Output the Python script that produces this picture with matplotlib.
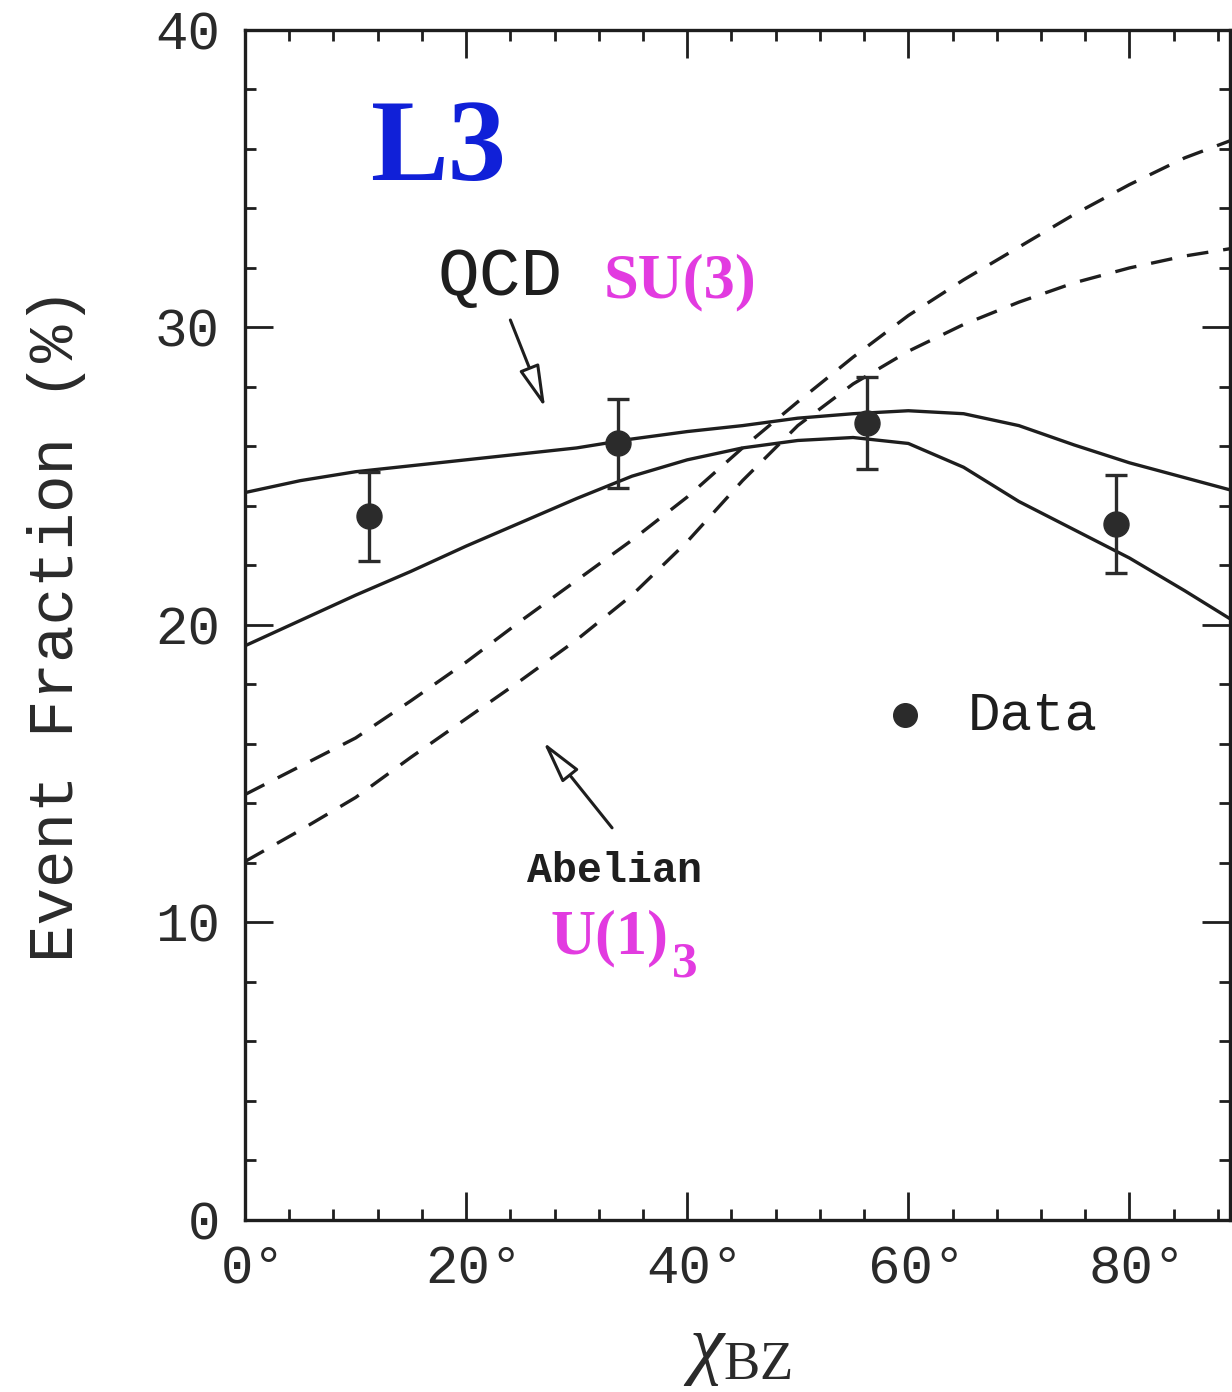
import matplotlib
matplotlib.use('Agg')
import matplotlib.pyplot as plt
import matplotlib.transforms as mtrans
from matplotlib.ticker import MultipleLocator
from matplotlib.patches import FancyArrowPatch

# data points
chi_data = [11.25, 33.75, 56.25, 78.75]
frac_data = [23.65, 26.1, 26.8, 23.4]
frac_err = [1.5, 1.5, 1.55, 1.65]

# model curves
chi_curve = [0, 5, 10, 15, 20, 25, 30, 35, 40, 45, 50, 55, 60, 65, 70, 75, 80, 85, 90]
qcd_upper = [24.45, 24.85, 25.15, 25.35, 25.55, 25.75, 25.95, 26.25, 26.5, 26.7,
             26.95, 27.1, 27.2, 27.1, 26.7, 26.05, 25.45, 24.95, 24.45]
qcd_lower = [19.3, 20.15, 21.0, 21.8, 22.65, 23.45, 24.25, 25.0, 25.55, 25.95,
             26.2, 26.3, 26.1, 25.3, 24.15, 23.2, 22.25, 21.15, 20.0]
abel_upper = [14.3, 15.25, 16.2, 17.45, 18.75, 20.15, 21.5, 22.85, 24.3, 25.95,
              27.5, 29.0, 30.4, 31.6, 32.7, 33.8, 34.8, 35.7, 36.4]
abel_lower = [12.05, 13.1, 14.2, 15.55, 16.85, 18.15, 19.5, 21.0, 22.8, 24.85,
              26.7, 28.1, 29.2, 30.1, 30.85, 31.5, 32.0, 32.4, 32.7]

xticks = [0, 20, 40, 60, 80]
xtick_labels = ['0°', '20°', '40°', '60°', '80°']
yticks = [0, 10, 20, 30, 40]

plt.rcParams['mathtext.fontset'] = 'custom'
plt.rcParams['mathtext.rm'] = 'Liberation Serif'
plt.rcParams['mathtext.it'] = 'Liberation Serif:italic'

ink = '#1e1e1e'
grey = '#2a2a2a'
magenta = '#e23be0'
mono = 'Liberation Mono'
serif = 'Liberation Serif'

fig = plt.figure(figsize=(12.32, 13.92), dpi=100)
ax = fig.add_axes([0.1989, 0.1236, 0.7995, 0.8549])

ax.plot(chi_curve, qcd_upper, color=ink, lw=2.4)
ax.plot(chi_curve, qcd_lower, color=ink, lw=2.4)
ax.plot(chi_curve, abel_upper, color=ink, lw=2.4, ls=(0, (6.5, 4.5)))
ax.plot(chi_curve, abel_lower, color=ink, lw=2.4, ls=(0, (6.5, 4.5)))

ax.errorbar(chi_data, frac_data, yerr=frac_err, fmt='o', color='#2b2b2b', ms=18,
            elinewidth=2.4, capsize=8, capthick=2.4)

ax.set_xlim(0, 89.1)
ax.set_ylim(0, 40)
ax.set_xticks(xticks)
ax.set_xticklabels(xtick_labels)
ax.set_yticks(yticks)
ax.xaxis.set_minor_locator(MultipleLocator(4))
ax.yaxis.set_minor_locator(MultipleLocator(2))
ax.tick_params(which='both', direction='in', top=True, right=True, color=ink, width=2)
ax.tick_params(which='major', length=20, labelsize=39, pad=18)
ax.tick_params(which='minor', length=8)
shift = mtrans.ScaledTranslation(8 / 100, 0, fig.dpi_scale_trans)
for lab in ax.get_xticklabels():
    lab.set_transform(lab.get_transform() + shift)
for lab in ax.get_xticklabels() + ax.get_yticklabels():
    lab.set_fontfamily(mono)
    lab.set_color(grey)
for sp in ax.spines.values():
    sp.set_linewidth(2.4)
    sp.set_color(ink)

ax.set_ylabel('Event Fraction (%)', fontfamily=mono, fontsize=45, color=grey, labelpad=50)
ax.set_xlabel(r'$\mathit{\chi}_{\mathrm{BZ}}$', fontsize=56, color=grey, labelpad=12)

# annotations
ax.text(11.3, 34.96, 'L3', fontfamily=serif, fontweight='bold', fontsize=84, color='#1020d8')
ax.text(17.4, 31.1, 'QCD', fontfamily=mono, fontsize=50, color=ink)
ax.text(32.4, 31.0, 'SU(3)', fontfamily=serif, fontweight='bold', fontsize=45, color=magenta)
ax.text(25.5, 11.36, 'Abelian', fontfamily=mono, fontweight='bold', fontsize=30, color=ink)
ax.text(27.6, 8.97, 'U(1)', fontfamily=serif, fontweight='bold', fontsize=45, color=magenta)
ax.text(38.6, 8.17, '3', fontfamily=serif, fontweight='bold', fontsize=37, color=magenta)

ax.plot([59.7], [16.97], 'o', color='#2b2b2b', ms=17)
ax.text(65.4, 16.97, 'Data', fontfamily=mono, fontsize=39, color=ink, va='center')

for tail, head in [((24.0, 30.25), (27.15, 27.3)), ((33.2, 13.18), (26.97, 16.07))]:
    arr = FancyArrowPatch(tail, head, arrowstyle='-|>,head_length=1.3,head_width=0.32',
                          mutation_scale=20, lw=2.2, ec=ink, fc='white',
                          shrinkA=0, shrinkB=0)
    ax.add_patch(arr)

fig.savefig('out.png', dpi=100)
